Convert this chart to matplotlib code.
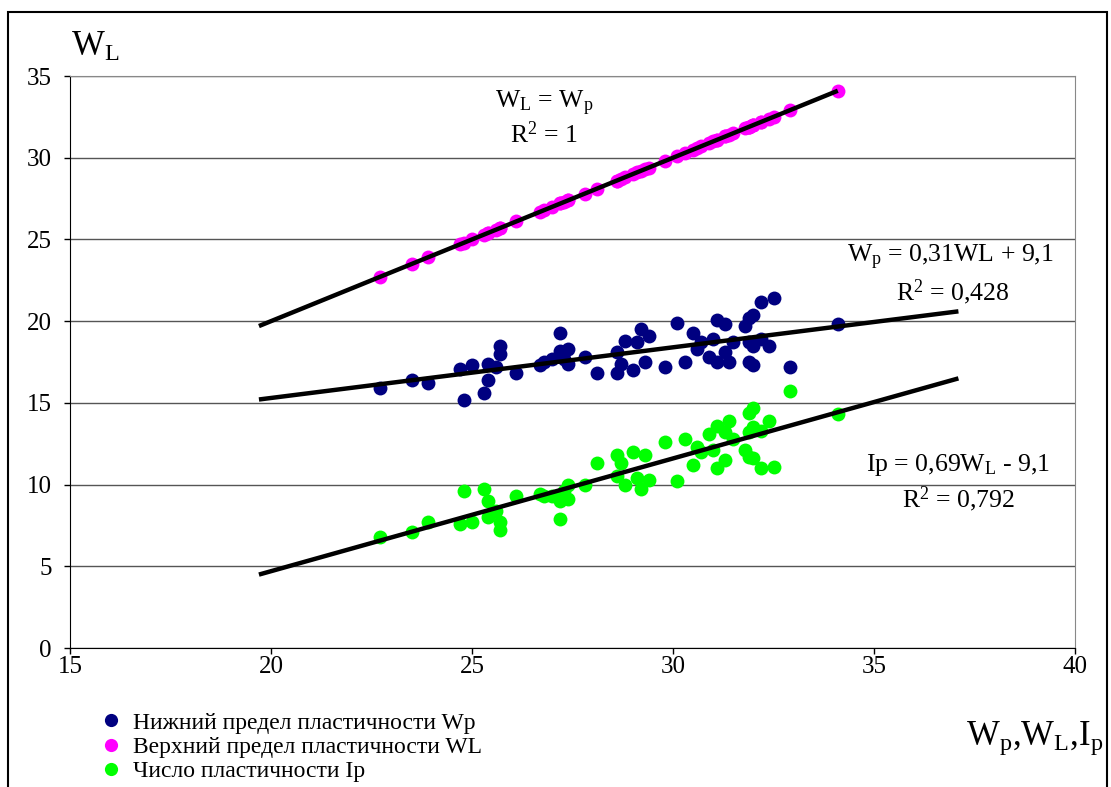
import numpy as np
import matplotlib
matplotlib.use("Agg")
import matplotlib.pyplot as plt
from matplotlib.lines import Line2D
from matplotlib.patches import Rectangle

plt.rcParams['font.family'] = ['Liberation Serif', 'DejaVu Serif']
plt.rcParams['mathtext.fontset'] = 'custom'
plt.rcParams['mathtext.rm'] = 'Liberation Serif'
plt.rcParams['mathtext.it'] = 'Liberation Serif:italic'

# liquid limit WL (x for all series)
wl = [22.7, 23.5, 23.9, 24.7, 24.8, 25.0, 25.3, 25.4, 25.4, 25.6,
      25.7, 25.7, 26.1, 26.7, 26.8, 27.0, 27.2, 27.2, 27.3, 27.4,
      27.4, 27.8, 28.1, 28.6, 28.7, 28.6, 28.8, 29.0, 29.1, 29.2,
      29.4, 29.3, 29.8, 30.1, 30.3, 30.5, 30.6, 30.7, 30.9, 31.0,
      31.1, 31.1, 31.3, 31.3, 31.4, 31.5, 31.8, 31.9, 32.0, 32.2,
      32.5, 31.9, 32.0, 32.2, 31.9, 32.0, 32.4, 32.9, 34.1]
# plastic limit Wp
wp = [15.9, 16.4, 16.2, 17.1, 15.2, 17.3, 15.6, 17.4, 16.4, 17.2,
      18.5, 18.0, 16.8, 17.3, 17.5, 17.7, 19.3, 18.2, 17.7, 18.3,
      17.4, 17.8, 16.8, 18.1, 17.4, 16.8, 18.8, 17.0, 18.7, 19.5,
      19.1, 17.5, 17.2, 19.9, 17.5, 19.3, 18.3, 18.7, 17.8, 18.9,
      20.1, 17.5, 19.8, 18.1, 17.5, 18.7, 19.7, 20.2, 20.4, 21.2,
      21.4, 18.7, 18.5, 18.9, 17.5, 17.3, 18.5, 17.2, 19.8]
# plasticity index Ip
ip = [6.8, 7.1, 7.7, 7.6, 9.6, 7.7, 9.7, 8.0, 9.0, 8.4,
      7.2, 7.7, 9.3, 9.4, 9.3, 9.3, 7.9, 9.0, 9.6, 9.1,
      10.0, 10.0, 11.3, 10.5, 11.3, 11.8, 10.0, 12.0, 10.4, 9.7,
      10.3, 11.8, 12.6, 10.2, 12.8, 11.2, 12.3, 12.0, 13.1, 12.1,
      11.0, 13.6, 11.5, 13.2, 13.9, 12.8, 12.1, 11.7, 11.6, 11.0,
      11.1, 13.2, 13.5, 13.3, 14.4, 14.7, 13.9, 15.7, 14.3]

# trend lines: slope, intercept, x range
fit_wl = (1.0, 0.0, 19.7, 34.1)
fit_wp = (0.31, 9.1, 19.7, 37.1)
fit_ip = (0.69, -9.1, 19.7, 37.1)

legend_labels = ['Нижний предел пластичности Wp',
                 'Верхний предел пластичности WL',
                 'Число пластичности Ip']
colors = ['#000080', '#FF00FF', '#00FF00']

fig = plt.figure(figsize=(11.11, 7.87), dpi=100)
ax = fig.add_axes([0.063, 0.1766, 0.9046, 0.7268])

ms = 10
ax.plot(wl, wp, 'o', color=colors[0], ms=ms, mec='none', zorder=3)
ax.plot(wl, wl, 'o', color=colors[1], ms=ms, mec='none', zorder=3)
ax.plot(wl, ip, 'o', color=colors[2], ms=ms, mec='none', zorder=3)

for k, b, x0, x1 in (fit_wl, fit_wp, fit_ip):
    xs = np.array([x0, x1])
    ax.plot(xs, k * xs + b, color='black', lw=3.2, zorder=4,
            solid_capstyle='butt')

ax.set_xlim(15, 40)
ax.set_ylim(0, 35)
ax.set_xticks(range(15, 41, 5))
ax.set_yticks(range(0, 36, 5))
ax.tick_params(labelsize=18, length=4, width=1, color='black')
ax.tick_params(axis='x', pad=2)
ax.tick_params(axis='y', pad=9)
ax.yaxis.grid(True, color='#555555', lw=1)
ax.set_axisbelow(True)
for s in ('top', 'right'):
    ax.spines[s].set_color('#888888')
for s in ('left', 'bottom'):
    ax.spines[s].set_color('black')

fs = 18.5
ax.text(26.8, 33.3, r'W$_\mathregular{L}$ = W$_\mathregular{p}$', ha='center', va='center', fontsize=fs)
ax.text(26.8, 31.4, r'R$^\mathregular{2}$ = 1', ha='center', va='center', fontsize=fs)
ax.text(36.9, 23.9, r'W$_\mathregular{p}$ = 0,31WL + 9,1', ha='center', va='center', fontsize=fs)
ax.text(36.95, 21.8, r'R$^\mathregular{2}$ = 0,428', ha='center', va='center', fontsize=fs)
ax.text(37.1, 11.2, r'Ip = 0,69W$_\mathregular{L}$ - 9,1', ha='center', va='center', fontsize=fs)
ax.text(37.1, 9.1, r'R$^\mathregular{2}$ = 0,792', ha='center', va='center', fontsize=fs)

fig.text(95 / 1111, 1 - 47 / 787, r'W$_\mathregular{L}$', ha='center', va='center', fontsize=25)
fig.text(1103 / 1111, 1 - 738 / 787, r'W$_\mathregular{p}$,W$_\mathregular{L}$,I$_\mathregular{p}$',
         ha='right', va='center', fontsize=25)

handles = [Line2D([], [], ls='none', marker='o', ms=9.5, color=c, mec='none') for c in colors]
fig.legend(handles, legend_labels, loc='upper left', bbox_to_anchor=(102 / 1111, 1 - 712 / 787),
           frameon=False, fontsize=17, handlelength=0.8, handletextpad=0.5,
           labelspacing=0.12, borderpad=0, borderaxespad=0)

fig.patches.append(Rectangle((8 / 1111, -0.02), 1099 / 1111, 1.02 - 12.5 / 787,
                             transform=fig.transFigure, fill=False, ec='black', lw=1.5))

fig.savefig('out.png', dpi=100)
